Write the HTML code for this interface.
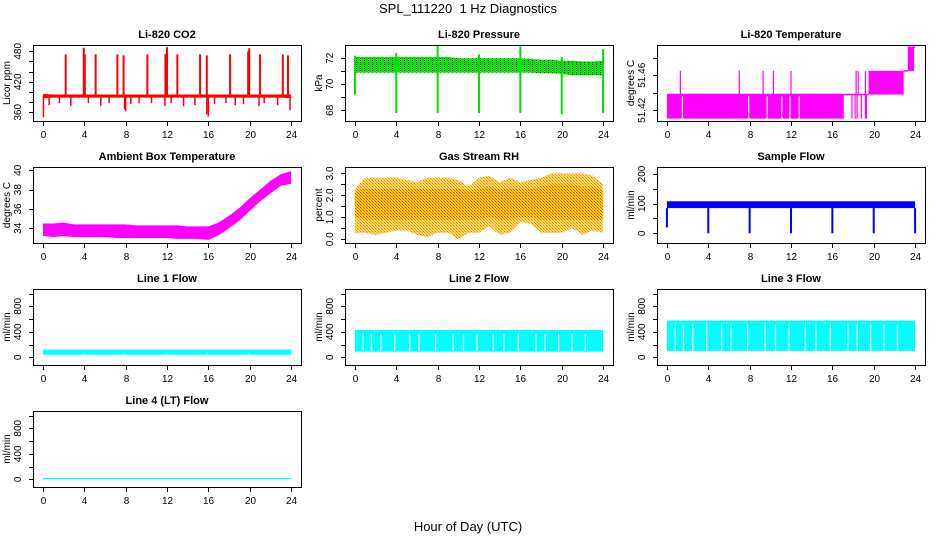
<!DOCTYPE html>
<html><head><meta charset="utf-8"><style>
html,body{margin:0;padding:0;background:#fff}
svg{display:block;font-family:"Liberation Sans",Arial,sans-serif}
</style></head><body>
<svg id="chart" width="936" height="540" viewBox="0 0 936 540">
<defs>
<pattern id="pgreen" width="4" height="2" patternUnits="userSpaceOnUse"><rect width="4" height="2" fill="#00e800"/><rect x="0" y="0" width="1" height="1" fill="#004400"/></pattern>
<pattern id="prh" width="3" height="3" patternUnits="userSpaceOnUse"><rect width="3" height="3" fill="#ffd800"/><rect x="0" y="0" width="1" height="1" fill="#ff2000"/><rect x="1" y="1" width="1" height="1" fill="#ff5000"/><rect x="2" y="2" width="1" height="1" fill="#ff8000"/></pattern>
</defs>
<text x="468" y="13" text-anchor="middle" font-size="13">SPL_111220&#160; 1 Hz Diagnostics</text>
<text x="468" y="531" text-anchor="middle" font-size="13">Hour of Day (UTC)</text>
</svg>
<script>
// ---------- data ----------
const hours = [0,1,2,3,4,5,6,7,8,9,10,11,12,13,14,15,16,17,18,19,20,21,22,23,24];
const co2Low  = [388,389,389,389,389,389,389,389,389,389,389,389,389,389,389,389,389,389,389,389,389,389,389,389,388];
const co2High = [396,395,395,395,395,395,395,395,395,395,395,395,395,395,395,395,395,395,395,395,395,395,395,395,395];
const co2SpikeHours = [2.2,3.95,4.05,5.1,7.2,7.8,10.1,11.85,12.0,13.0,15.2,15.85,18.1,19.85,19.95,21.0,23.2,23.7];
const co2SpikeMax   = [474,487,474,474,474,472,474,475,488,474,474,472,474,480,486,474,474,472];
const co2DipHours = [0.05,0.6,1.6,2.7,4.4,5.6,6.4,7.9,8.0,8.5,9.3,10.5,11.8,12.4,13.6,14.7,15.85,16.0,16.6,17.7,18.6,19.4,20.9,21.4,22.7,23.9];
const co2DipMin   = [350,374,378,372,378,372,378,366,362,376,378,378,372,378,372,374,356,352,376,378,374,376,372,378,374,364];

const pressLow  = [70.9,70.9,70.9,70.9,70.9,70.9,70.9,70.9,70.9,70.9,70.9,70.9,70.9,70.9,70.9,70.9,70.9,70.9,70.85,70.85,70.8,70.7,70.7,70.7,70.7];
const pressHigh = [72.1,72.1,72.1,72.1,72.1,72.1,72.1,72.1,72.1,72.1,72.0,72.0,72.0,72.0,72.0,72.0,72.0,71.95,71.9,71.9,71.8,71.8,71.75,71.75,71.8];
const pressEventHours = [0,4,8,12,16,20,24];
const pressEventMin = [69.2,67.8,67.8,67.8,67.8,67.7,67.8];
const pressEventMax = [72.2,72.4,73.0,72.3,72.9,72.1,72.7];

const tempLevels = [51.4105,51.438,51.465,51.492];
const tempFillStart = [0.0,19.5,23.3];
const tempFillEnd   = [17.1,22.9,23.9];
const tempFillLow   = [0,1,2];
const tempFillHigh  = [1,2,3];
const tempLineStart = [0.0,17.1,22.9,23.3];
const tempLineEnd   = [17.1,19.5,23.3,24.0];
const tempLineLevel = [1,1,2,3];
const tempGapHours  = [1.5,7.9,9.7,11.1,11.9,12.8];
const tempSpikeHours = [1.3,7.0,9.3,10.3,12.0,18.3,18.5,19.2];
const tempSpikeLevel = [2,2,2,2,2,2,2,2];
const tempDropHours = [17.9,18.2,18.4,18.8,19.2,19.3];

const ambLow  = [33.2,33.1,33.2,33.1,33.1,33.1,33.1,33.0,33.0,33.0,33.0,33.0,33.0,32.9,32.9,32.9,32.8,33.3,34.0,34.8,35.8,36.8,37.6,38.4,38.6];
const ambHigh = [34.5,34.5,34.6,34.4,34.4,34.4,34.4,34.4,34.4,34.3,34.3,34.3,34.3,34.3,34.2,34.2,34.2,34.6,35.3,36.1,37.1,38.0,38.9,39.6,39.9];

const rhLow  = [0.3,0.3,0.2,0.3,0.4,0.4,0.2,0.1,0.3,0.3,0.0,0.3,0.3,0.6,0.2,0.3,0.8,0.7,0.3,0.3,0.3,0.5,0.2,0.4,0.3];
const rhHigh = [2.3,2.8,2.8,2.8,2.8,2.7,2.6,2.8,2.8,2.8,2.7,2.4,2.8,2.9,2.6,2.8,2.6,2.7,2.8,3.0,3.0,3.0,3.0,2.9,2.5];
const rhCoreLow  = [1.0,0.9,0.9,0.9,0.9,0.9,0.9,0.9,0.9,0.9,0.9,0.9,0.9,1.0,0.9,0.9,1.0,1.0,0.9,0.9,0.9,0.9,0.9,0.9,0.9];
const rhCoreHigh = [2.2,2.3,2.3,2.3,2.3,2.3,2.3,2.3,2.3,2.3,2.3,2.2,2.3,2.4,2.3,2.3,2.3,2.3,2.4,2.5,2.5,2.5,2.4,2.4,2.2];

const sampleLow = 85, sampleHigh = 108;
const sampleDropHours = [0,4,8,12,16,20,24];
const sampleDropMin = [20,0,0,0,0,0,0];

const line1Low = 40, line1High = 120;
const line2Low = 88, line2High = 428;
const line3Low = 100, line3High = 575;
const line4Low = 0, line4High = 20;
const lineGapHours = [0.8,1.6,2.5,3.85,5.3,6.2,7.8,9.5,10.5,11.8,13.4,14.4,15.8,17.5,18.4,19.7,21.0,22.3];
const line1GapHours = [3.9,7.9,11.9,15.9,19.9];
const line4GapHours = [];

const xTicks = [0,4,8,12,16,20,24];
// ---------- layout ----------
const NS = "http://www.w3.org/2000/svg";
const svg = document.getElementById('chart');
const colLeft = [33,345,657], rowTop = [45,167,289,411], BW = 268, BH = 76;
function mk(tag, attrs, parent){const e=document.createElementNS(NS,tag);for(const k in attrs)e.setAttribute(k,attrs[k]);(parent||svg).appendChild(e);return e;}

function makePanel(col,row,title,ylab,ymin,ymax,yTicks,yLabels,name){
  const x0=colLeft[col], y0=rowTop[row];
  const g=mk('g',{});
  
  
  const xs=h=>x0+(h+0.96)/25.92*BW;
  const ys=v=>y0+BH-(v-ymin)/(ymax-ymin)*BH;
  const marks=mk('g',{},g);
  
  
  const box=mk('rect',{x:x0+0.5,y:y0+0.5,width:BW,height:BH,fill:'none',stroke:'#000','stroke-width':1},g);
  
  
  const t=mk('text',{x:x0+BW/2,y:y0-7,'text-anchor':'middle','font-size':11,'font-weight':'bold'},g);
  t.textContent=title;
  
  
  xTicks.forEach(h=>{
    const x=Math.round(xs(h))+0.5;
    mk('line',{x1:x,x2:x,y1:y0+BH,y2:y0+BH+5,stroke:'#000'},g);
    const l=mk('text',{x:x,y:y0+BH+17,'text-anchor':'middle','font-size':10},g);
    l.textContent=h;
    
    
  });
  yTicks.forEach(v=>{
    const y=Math.round(ys(v))+0.5;
    mk('line',{x1:x0-4,x2:x0,y1:y,y2:y,stroke:'#000'},g);
  });
  yLabels.forEach(lb=>{
    const y=ys(parseFloat(lb));
    const l=mk('text',{x:0,y:0,'text-anchor':'middle','font-size':10,transform:`translate(${x0-12},${y}) rotate(-90)`},g);
    l.textContent=lb;
    
    
  });
  const yt=mk('text',{x:0,y:0,'text-anchor':'middle','font-size':10,transform:`translate(${x0-23},${y0+BH/2}) rotate(-90)`},g);
  yt.textContent=ylab;
  
  
  return {xs,ys,marks};
}
function band(p,lo,hi,fill){
  let pts=hours.map((h,i)=>p.xs(h).toFixed(1)+','+p.ys(hi[i]).toFixed(1));
  for(let i=hours.length-1;i>=0;i--)pts.push(p.xs(hours[i]).toFixed(1)+','+p.ys(lo[i]).toFixed(1));
  return mk('polygon',{points:pts.join(' '),fill:fill},p.marks);
}
function vline(p,h,a,b,color,w){return mk('line',{x1:p.xs(h),x2:p.xs(h),y1:p.ys(a),y2:p.ys(b),stroke:color,'stroke-width':w||1.5},p.marks);}

// CO2
let p=makePanel(0,0,'Li-820 CO2','Licor ppm',342.9,492.4,[360,380,400,420,440,460,480],['360','420','480'],'co2');
band(p,co2Low,co2High,'#ff0000');
co2SpikeHours.forEach((h,i)=>vline(p,h,392,co2SpikeMax[i],'#ff0000',2));
co2DipHours.forEach((h,i)=>vline(p,h,392,co2DipMin[i],'#ff0000',1.5));

// Pressure
p=makePanel(1,0,'Li-820 Pressure','kPa',67.18,73.02,[68,69,70,71,72],['68','70','72'],'pressure');
band(p,pressLow,pressHigh,'url(#pgreen)');
pressEventHours.forEach((h,i)=>{vline(p,h,pressEventMin[i],pressEventMax[i],'#00e000',2);});

// Li-820 temperature
p=makePanel(2,0,'Li-820 Temperature','degrees C',51.4078,51.4945,[51.42,51.44,51.46,51.48],['51.42','51.46'],'licor-temp');
tempFillStart.forEach((s,i)=>{
  const y1=p.ys(tempLevels[tempFillHigh[i]]), y2=p.ys(tempLevels[tempFillLow[i]]);
  mk('rect',{x:p.xs(s),y:y1,width:p.xs(tempFillEnd[i])-p.xs(s),height:y2-y1,fill:'#ff00ff'},p.marks);
});
tempLineStart.forEach((s,i)=>{
  const y=p.ys(tempLevels[tempLineLevel[i]]);
  mk('line',{x1:p.xs(s),x2:p.xs(tempLineEnd[i]),y1:y,y2:y,stroke:'#ff00ff','stroke-width':1.5},p.marks);
});
tempGapHours.forEach(h=>vline(p,h,tempLevels[0],tempLevels[1]-0.002,'#ffffff',1.2));
tempSpikeHours.forEach((h,i)=>vline(p,h,tempLevels[1],tempLevels[tempSpikeLevel[i]],'#ff00ff',1.2));
tempDropHours.forEach(h=>vline(p,h,tempLevels[0],tempLevels[1],'#ff00ff',1.2));

// Ambient box temperature
p=makePanel(0,1,'Ambient Box Temperature','degrees C',32.48,40.34,[34,36,38,40],['34','36','38','40'],'ambient-temp');
band(p,ambLow,ambHigh,'#ff00ff');

// Gas stream RH
p=makePanel(1,1,'Gas Stream RH','percent',-0.17,3.29,[0,0.5,1,1.5,2,2.5,3],['0.0','1.0','2.0','3.0'],'rh');
band(p,rhLow,rhHigh,'url(#prh)').setAttribute('opacity','0.7');
band(p,rhCoreLow,rhCoreHigh,'url(#prh)');

// Sample flow
p=makePanel(2,1,'Sample Flow','ml/min',-32.7,223.6,[0,50,100,150,200],['0','100','200'],'sample-flow');
mk('rect',{x:p.xs(0),y:p.ys(sampleHigh),width:p.xs(24)-p.xs(0),height:p.ys(sampleLow)-p.ys(sampleHigh),fill:'#0000ff'},p.marks);
sampleDropHours.forEach((h,i)=>vline(p,h,sampleLow,sampleDropMin[i],'#0000ff',2));

// Line flows
function linePanel(col,row,title,lo,hi,gaps,name){
  const q=makePanel(col,row,title,'ml/min',-121,1071,[0,200,400,600,800,1000],['0','400','800'],name);
  mk('rect',{x:q.xs(0),y:q.ys(hi),width:q.xs(24)-q.xs(0),height:q.ys(lo)-q.ys(hi),fill:'#00ffff'},q.marks);
  gaps.forEach(h=>vline(q,h,lo+10,hi-60,'#ffffff',1.2));
}
linePanel(0,2,'Line 1 Flow',line1Low,line1High,line1GapHours,'line1-flow');
linePanel(1,2,'Line 2 Flow',line2Low,line2High,lineGapHours,'line2-flow');
linePanel(2,2,'Line 3 Flow',line3Low,line3High,lineGapHours,'line3-flow');
linePanel(0,3,'Line 4 (LT) Flow',line4Low,line4High,line4GapHours,'line4-flow');
</script>
</body></html>
